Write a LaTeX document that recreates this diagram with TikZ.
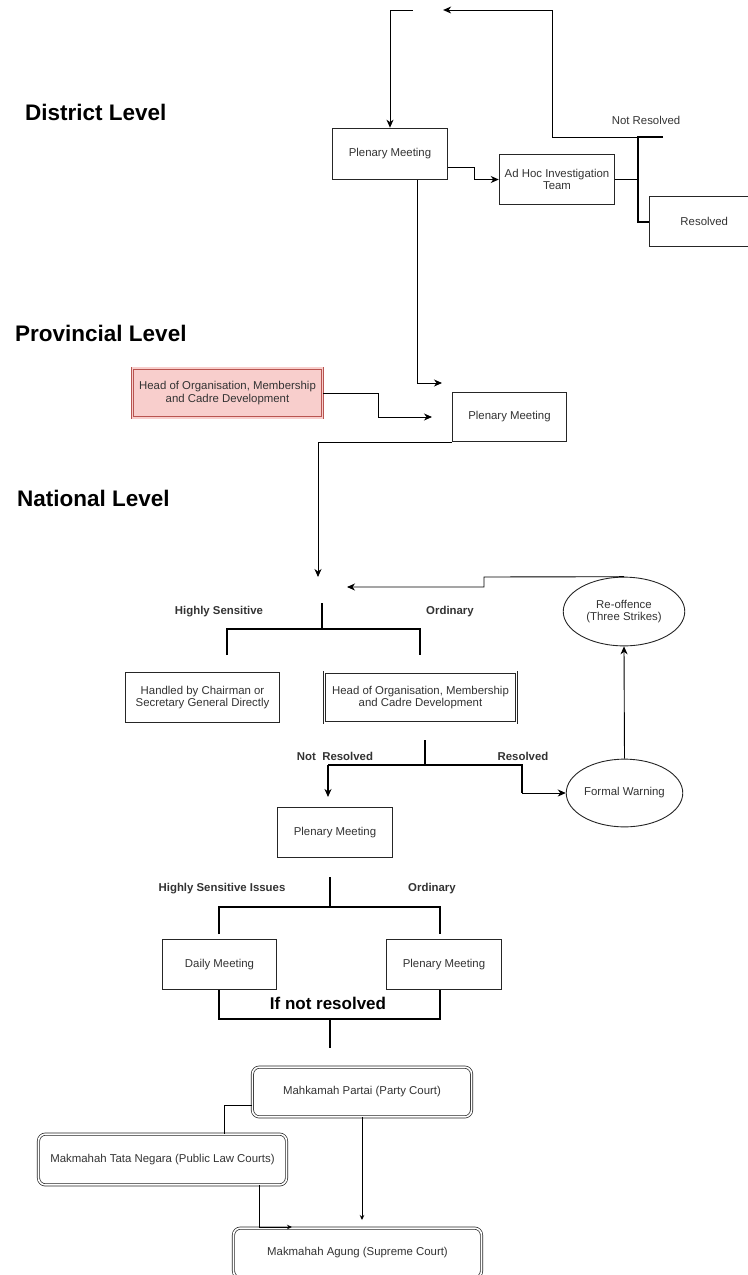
\documentclass[tikz,border=0pt]{standalone}
\usepackage{fontspec}
\setmainfont{Liberation Sans}
\usetikzlibrary{arrows.meta,calc,shapes.geometric}
\definecolor{txt}{HTML}{333333}
\definecolor{pinkfill}{HTML}{F8CECC}
\definecolor{pinkline}{HTML}{B85450}
\begin{document}
\begin{tikzpicture}[x=1bp,y=-1bp,
  box/.style={draw=black!85, line width=0.9bp, fill=white, text=txt, align=center, inner sep=0pt,
    font=\fontsize{11.4bp}{12.5bp}\selectfont},
  dbox/.style={box, double=white, double distance=1.6bp, line width=0.7bp},
  cbox/.style={dbox, rounded corners=7bp},
  pinkbox/.style={box, fill=pinkfill, draw=pinkline, double=pinkfill, double distance=1.6bp, line width=0.7bp},
  ell/.style={box, ellipse},
  conn/.style={draw=black, line width=0.9bp},
  arr/.style={conn, -{Stealth[length=8bp,width=7bp,inset=2.5bp]}},
  sarr/.style={conn, -{Stealth[length=5bp,width=4.5bp]}},
  bracket/.style={draw=black, line width=2bp},
  lbl/.style={text=txt, inner sep=0pt, font=\fontsize{11.4bp}{13bp}\selectfont},
  blbl/.style={text=txt, inner sep=0pt, font=\fontsize{11.4bp}{13bp}\selectfont\bfseries},
  levelhead/.style={anchor=west, inner sep=0pt, font=\fontsize{22.5bp}{26bp}\selectfont\bfseries}
]
\clip (0,0) rectangle (748,1275);

% headings
\node[levelhead] (hd) at (25,112) {District Level};
\node[levelhead] (hp) at (15,333) {Provincial Level};
\node[levelhead] (hn) at (17,498) {National Level};

% ---------- District ----------
\node[inner sep=0pt, minimum width=30, minimum height=4] (topgap) at (428,10) {};
\node[box, minimum width=116, minimum height=52] (pm1) at (390,154) {Plenary Meeting};
\node[box, minimum width=116, minimum height=51] (adhoc) at (557,179.5) {Ad Hoc Investigation\\Team};
\node[box, minimum width=110, minimum height=51, anchor=west] (res) at (649,221.5) {Resolved};
\node[lbl] (nr) at (646,120) {Not Resolved};

\coordinate (brtop) at (638,137);
\coordinate (brend) at (663,137);
\coordinate (brmid) at (638,179.5);
\coordinate (brbot) at (638,221.5);

\draw[arr] (topgap.west) -| (pm1.north);
\draw[arr] ($(pm1.east)+(0,13)$) -- ++(26,0) |- (adhoc.west);
\draw[conn, line width=1.5bp] (adhoc.east) -- (brmid);
\draw[bracket] (brend) -- (brtop) -- (brbot) -- (res.west);
\draw[arr] (brtop) -- (552,137) -- (552,10) -- (topgap.east);

% ---------- Provincial ----------
\node[pinkbox, minimum width=191, minimum height=50] (head1) at (227.5,393) {Head of Organisation, Membership\\and Cadre Development};
\node[box, minimum width=115, minimum height=50] (pm2) at (509.5,417) {Plenary Meeting};
\coordinate (p2in) at (442,383);
\coordinate (p2in2) at (432,417);
\draw[arr] ($(pm1.south)+(27,0)$) |- (p2in);
\draw[arr] (head1.east) -- ++(55,0) |- (p2in2);

% ---------- National ----------
\coordinate (natin) at (318,577);
\coordinate (natin2) at (347,587);
\draw[arr] (pm2.south west) -| (natin);

\node[ell, minimum width=122, minimum height=69] (reoff) at (624,611.5) {Re-offence\\(Three Strikes)};
\draw[arr] (reoff.north) -- (484,577) -- (484,587) -- (natin2);

\node[blbl] (lhs1) at (219,612) {Highly Sensitive};
\node[blbl] (lor1) at (450,612) {Ordinary};
\draw[bracket] (322,603) -- (322,629);
\draw[bracket] (227,655) -- (227,629) -- (420,629) -- (420,655);

\node[box, minimum width=155, minimum height=51] (hand) at (202.5,697.5) {Handled by Chairman or\\Secretary General Directly};
\node[dbox, minimum width=193, minimum height=51] (head2) at (420.5,697.5) {Head of Organisation, Membership\\and Cadre Development};

\node[ell, minimum width=117, minimum height=68] (fw) at (624.5,793) {Formal Warning};

\node[blbl] (lnr) at (335,756) {Not\ \ Resolved};
\node[blbl] (lr) at (523,756) {Resolved};
\coordinate (fwturn) at (522,793);
\draw[bracket] (425,740) -- (425,765);
\draw[bracket] (328,765) -- (522,765) -- (fwturn);

\coordinate (pm3in) at (328,797);
\draw[arr, line width=1.6bp] (328,765) -- (pm3in);
\draw[arr] (fwturn) -- (fw.west);
\draw[arr] (fw.north) -- (reoff.south);

\node[box, minimum width=116, minimum height=51] (pm3) at (335,832.5) {Plenary Meeting};

\node[blbl] (lhs2) at (222,889) {Highly Sensitive Issues};
\node[blbl] (lor2) at (432,889) {Ordinary};
\draw[bracket] (330,877) -- (330,907);
\draw[bracket] (219,934) -- (219,907) -- (440,907) -- (440,934);

\node[box, minimum width=115, minimum height=51] (daily) at (219.5,964.5) {Daily Meeting};
\node[box, minimum width=116, minimum height=51] (pm4) at (444,964.5) {Plenary Meeting};

\draw[bracket] (219,990) -- (219,1019) -- (440,1019) -- (440,990);
\draw[bracket] (330,1019) -- (330,1048);
\node[inner sep=0pt, font=\fontsize{17bp}{20bp}\selectfont\bfseries] (inr) at (328,1003) {If not resolved};

% ---------- Courts ----------
\node[cbox, minimum width=220, minimum height=50] (partai) at (362,1092) {Mahkamah Partai (Party Court)};
\node[cbox, minimum width=249, minimum height=51] (tata) at (162.5,1159.5) {Makmahah Tata Negara (Public Law Courts)};
\node[cbox, minimum width=249, minimum height=50] (agung) at (357.5,1253) {Makmahah Agung (Supreme Court)};

\coordinate (agin1) at (362,1220);
\coordinate (agin2) at (292,1227);
\draw[conn] ($(partai.west)+(0,13)$) -| ($(tata.north)+(61.5,0)$);
\draw[sarr] (partai.south) -- (agin1);
\draw[sarr] ($(tata.south)+(96.5,0)$) |- (agin2);
\end{tikzpicture}
\end{document}
